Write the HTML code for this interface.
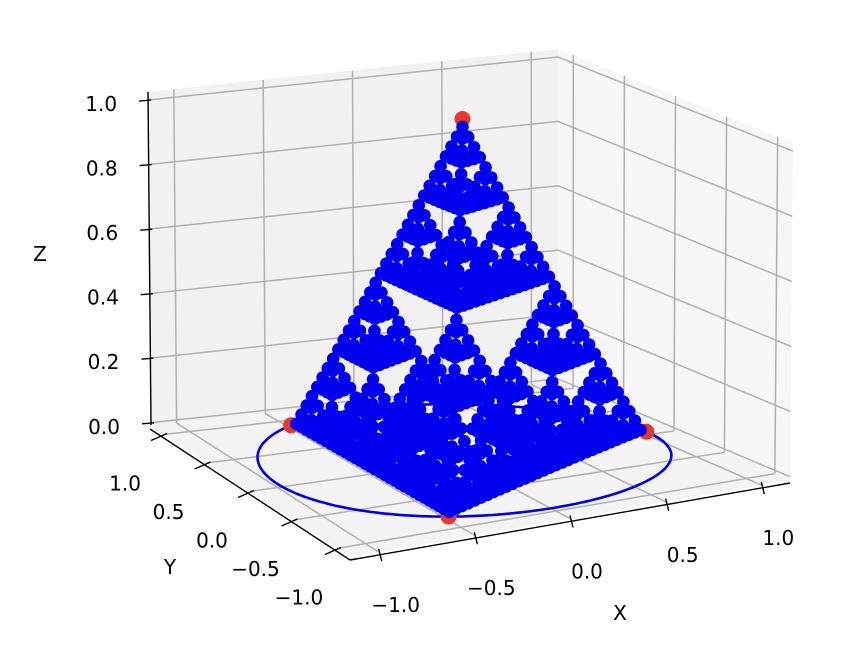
<!DOCTYPE html>
<html><head><meta charset="utf-8"><style>
html,body{margin:0;padding:0;background:#fff}
svg{display:block;font-family:"DejaVu Sans","Liberation Sans",sans-serif}
</style></head><body>
<svg id="chart" width="842" height="664" viewBox="0 0 842 664">
<g id="panes"></g>
<g id="grid"></g>
<g id="axes"></g>
<g id="marks"></g>
<text x="40" y="261" font-size="20" text-anchor="middle">Z</text>
<text x="170" y="574" font-size="20" text-anchor="middle">Y</text>
<text x="620" y="620" font-size="20" text-anchor="middle">X</text>
</svg>
<script>
const xTicks = [-1.0, -0.5, 0.0, 0.5, 1.0];
const yTicks = [-1.0, -0.5, 0.0, 0.5, 1.0];
const zTicks = [0.0, 0.2, 0.4, 0.6, 0.8, 1.0];
const xTickLabels = ["\u22121.0", "\u22120.5", "0.0", "0.5", "1.0"];
const yTickLabels = ["\u22121.0", "\u22120.5", "0.0", "0.5", "1.0"];
const zTickLabels = ["0.0", "0.2", "0.4", "0.6", "0.8", "1.0"];
const vertexX = [1.0, -0.5, -0.5, 0.0];
const vertexY = [0.0, 0.866, -0.866, 0.0];
const vertexZ = [0.0, 0.0, 0.0, 1.0];
const circleRadius = 1.0;
const fractalLevel = 5;

const NS = "http://www.w3.org/2000/svg";
const xmin=-1.15,xmax=1.15,ymin=-1.15,ymax=1.15,zmin=-0.01,zmax=1.025;
const F=[350,557],R=[790,480],L0=[150,426],B=[558,382];
const FT=[352,158],RT=[793,143],LT=[147,92],BT=[558,49];
function bil(a,b,c,d,u,v){return [a[0]*(1-u)*(1-v)+b[0]*u*(1-v)+c[0]*(1-u)*v+d[0]*u*v,
 a[1]*(1-u)*(1-v)+b[1]*u*(1-v)+c[1]*(1-u)*v+d[1]*u*v];}
function P(x,y,z){const u=(x-xmin)/(xmax-xmin),v=(y-ymin)/(ymax-ymin),w=(z-zmin)/(zmax-zmin);
 const b=bil(F,R,L0,B,u,v),t=bil(FT,RT,LT,BT,u,v);return [b[0]+(t[0]-b[0])*w,b[1]+(t[1]-b[1])*w];}
function el(tag,attrs,parent){const e=document.createElementNS(NS,tag);for(const k in attrs)e.setAttribute(k,attrs[k]);parent.appendChild(e);return e;}
function line(p,q,stroke,sw,parent){return el("line",{x1:p[0],y1:p[1],x2:q[0],y2:q[1],stroke:stroke,"stroke-width":sw},parent);}

const panes=document.getElementById("panes");
let pl=el("polygon",{points:[L0,B,BT,LT].map(p=>p.join(",")).join(" "),fill:"#f1f1f1"},panes);


let pr=el("polygon",{points:[B,R,RT,BT].map(p=>p.join(",")).join(" "),fill:"#f7f7f7"},panes);


let pf=el("polygon",{points:[F,R,B,L0].map(p=>p.join(",")).join(" "),fill:"#f4f4f4"},panes);



const grid=document.getElementById("grid");
const gc="#b0b0b0",gw=1.5;
xTicks.forEach(x=>{
 let g1=line(P(x,ymin,zmin),P(x,ymax,zmin),gc,gw,grid);
 
 
 let g2=line(P(x,ymax,zmin),P(x,ymax,zmax),gc,gw,grid);
 
 
});
yTicks.forEach(y=>{
 let g1=line(P(xmin,y,zmin),P(xmax,y,zmin),gc,gw,grid);
 
 
 let g2=line(P(xmax,y,zmin),P(xmax,y,zmax),gc,gw,grid);
 
 
});
zTicks.forEach(z=>{
 let g1=line(P(xmin,ymax,z),P(xmax,ymax,z),gc,gw,grid);
 
 
 let g2=line(P(xmax,ymax,z),P(xmax,ymin,z),gc,gw,grid);
 
 
});

const axes=document.getElementById("axes");
let za=line([L0[0]+1,L0[1]-1],[LT[0]+1,LT[1]],"#000",1.4,axes);


zTicks.forEach((z,i)=>{
 const p=P(xmin,ymax,z);
 let t=line([p[0]-8,p[1]+1],[p[0]+4,p[1]],"#000",1.4,axes);
 
 
 let tx=el("text",{x:p[0]-30,y:p[1]+11,"font-size":20,"text-anchor":"end"},axes);
 tx.textContent=zTickLabels[i];
 
 
});
let ya=line([L0[0],L0[1]+3],[F[0],F[1]+3],"#000",1.4,axes);


yTicks.forEach((y,i)=>{
 const p=P(xmin,y,zmin);
 let t=line([p[0]-12,p[1]+6],[p[0]+4,p[1]-1],"#000",1.4,axes);
 
 
 let tx=el("text",{x:p[0]-38,y:p[1]+56,"font-size":20,"text-anchor":"middle"},axes);
 tx.textContent=yTickLabels[i];
 
 
});
let xa=line([F[0],F[1]+3],[R[0],R[1]+3],"#000",1.4,axes);


xTicks.forEach((x,i)=>{
 const p=P(x,ymin,zmin);
 let t=line([p[0],p[1]-3],[p[0]+3,p[1]+9],"#000",1.4,axes);
 
 
 let tx=el("text",{x:p[0]+17,y:p[1]+60,"font-size":20,"text-anchor":"middle"},axes);
 tx.textContent=xTickLabels[i];
 
 
});

const marks=document.getElementById("marks");
const cpts=[];
for(let k=0;k<=180;k++){const a=k/180*2*Math.PI;cpts.push(P(circleRadius*Math.cos(a),circleRadius*Math.sin(a),0));}
let circ=el("polyline",{points:cpts.map(p=>p[0].toFixed(1)+","+p[1].toFixed(1)).join(" "),fill:"none",stroke:"#0000ee","stroke-width":2.6},marks);


for(let i=0;i<vertexX.length;i++){
 const p=P(vertexX[i],vertexY[i],vertexZ[i]);
 let c=el("circle",{cx:p[0],cy:p[1],r:8,fill:"#e8382b"},marks);
 
 
}
let pts=[[vertexX.reduce((a,b)=>a+b)/4,vertexY.reduce((a,b)=>a+b)/4,vertexZ.reduce((a,b)=>a+b)/4]];
for(let l=0;l<fractalLevel;l++){
 const np=[];
 pts.forEach(p=>{for(let i=0;i<vertexX.length;i++)np.push([(p[0]+vertexX[i])/2,(p[1]+vertexY[i])/2,(p[2]+vertexZ[i])/2]);});
 pts=np;
}
pts.sort((a,b)=>(b[0]+b[1])-(a[0]+a[1]));
const fg=el("g",{fill:"#0000ee"},marks);


pts.forEach(q=>{
 const p=P(q[0],q[1],q[2]);
 let c=el("circle",{cx:p[0].toFixed(1),cy:p[1].toFixed(1),r:6.3},fg);
 
 
});
</script>
</body></html>
